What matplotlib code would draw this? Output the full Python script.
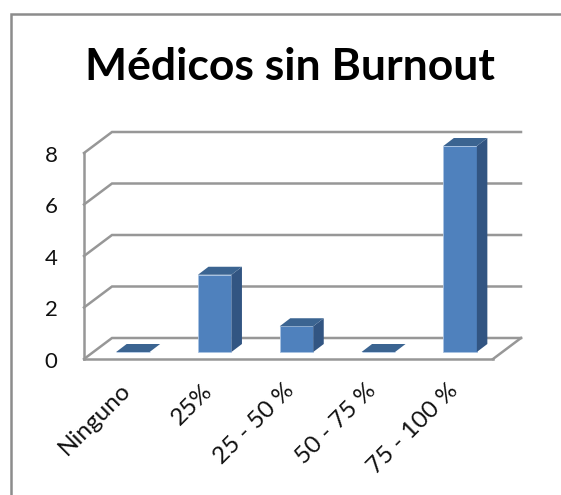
import matplotlib
matplotlib.use("Agg")
import matplotlib.pyplot as plt
from matplotlib.lines import Line2D
from matplotlib.patches import Polygon
from matplotlib.transforms import ScaledTranslation

categories = ["Ninguno", "25%", "25 - 50 %", "50 - 75 %", "75 - 100 %"]
values = [0, 3, 1, 0, 8]
y_ticks = [0, 2, 4, 6, 8]

W, H = 561, 495
GREY = "#979797"
FRONT = "#4F81BD"
SIDE = "#325582"
TOP = "#3B6491"

plt.rcParams["font.family"] = ["Lato", "DejaVu Sans"]

fig = plt.figure(figsize=(W / 100, H / 100), dpi=100, facecolor="white")
ax = fig.add_axes([84 / W, (H - 359) / H, 409 / W, 206 / H])
ax.set_xlim(0, 5)
ax.set_ylim(0, 8)
ax.patch.set_visible(False)

# depth of the fake 3d box, in data units
box_dx = 28 / 81.8
box_dy = 21 / 25.75

# back wall lines and floor
for v in y_ticks:
    ax.plot([0, box_dx, 5 + box_dx], [v, v + box_dy, v + box_dy],
            color=GREY, lw=1.8, clip_on=False, zorder=1, solid_joinstyle="miter")
ax.plot([5, 5 + box_dx], [0, box_dy], color=GREY, lw=1.8, clip_on=False, zorder=1)

# bars: front face, then side and top
bar_w = 33.5 / 81.8
front_x = 8 / 81.8
front_y = 7 / 25.75
depth_x = 10.5 / 81.8
depth_y = 8 / 25.75
for i, v in enumerate(values):
    left = i + 0.5 + front_x - bar_w / 2
    right = left + bar_w
    ax.bar(left, v, bar_w, bottom=front_y, align="edge", color=FRONT,
           edgecolor="#A9C3E2", lw=0.6, clip_on=False, zorder=3)
    ax.add_patch(Polygon([(right, front_y), (right + depth_x, front_y + depth_y),
                          (right + depth_x, front_y + depth_y + v), (right, front_y + v)],
                         facecolor=SIDE, edgecolor="none", clip_on=False, zorder=3))
    ax.add_patch(Polygon([(left, front_y + v), (right, front_y + v),
                          (right + depth_x, front_y + depth_y + v),
                          (left + depth_x, front_y + depth_y + v)],
                         facecolor=TOP, edgecolor="none", clip_on=False, zorder=4))

for s in ["top", "right"]:
    ax.spines[s].set_visible(False)
for s in ["left", "bottom"]:
    ax.spines[s].set_color(GREY)
    ax.spines[s].set_linewidth(1.8)

ax.set_yticks(y_ticks)
ax.set_xticks([i + 0.5 for i in range(5)])
ax.set_xticklabels(categories, rotation=45, ha="right", va="top",
                   rotation_mode="anchor", fontsize=17.5, color="#111111")
ax.tick_params(axis="y", length=0, pad=19, labelsize=16, labelcolor="#111111")
ax.tick_params(axis="x", length=0, pad=15)

# small nudges for the tick text
for lab in ax.get_yticklabels():
    lab.set_transform(lab.get_transform() + ScaledTranslation(0, -0.7 / 72, fig.dpi_scale_trans))
for lab in ax.get_xticklabels():
    lab.set_transform(lab.get_transform() + ScaledTranslation(-3.6 / 72, 0, fig.dpi_scale_trans))

fig.text(290 / W, 1 - 67 / H, "Médicos sin Burnout", fontsize=32, fontweight="bold",
         ha="center", va="center", color="black")

# chart frame, open on the right and at the bottom
fig.add_artist(Line2D([10.5 / W, 10.5 / W, 1], [0, 1 - 14 / H, 1 - 14 / H],
                      color="#8C8C8C", lw=1.8, solid_joinstyle="miter"))

fig.savefig("out.png", dpi=100)
